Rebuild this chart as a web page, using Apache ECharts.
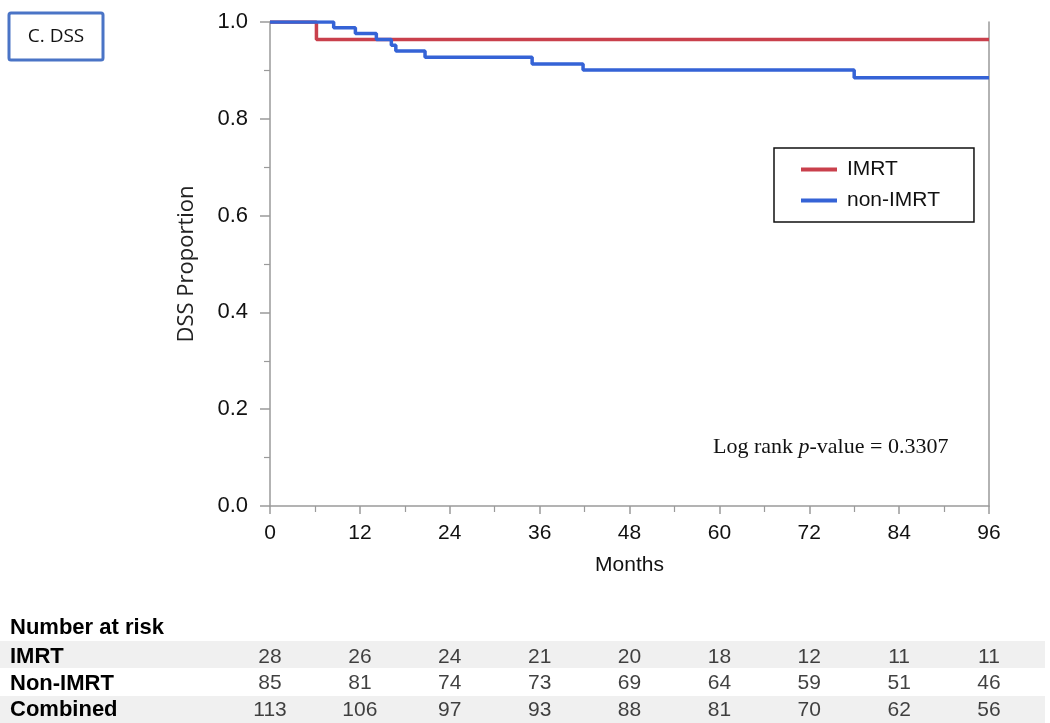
<!DOCTYPE html>
<html>
<head>
<meta charset="utf-8">
<script src="https://cdn.jsdelivr.net/npm/echarts@6/dist/echarts.min.js"></script>
<style>html,body{margin:0;padding:0;background:#fff;}#c{width:1050px;height:723px;}</style>
</head>
<body>
<div id="c"></div>
<script>
// ---- data ----
const seriesNames = ['IMRT', 'non-IMRT'];
const imrtTimes = [0, 6.2, 96];
const imrtSurv = [1.0, 0.964, 0.964];
const nonImrtTimes = [0, 8.5, 11.4, 14.2, 16.2, 16.8, 20.7, 35.0, 41.8, 78.0, 96];
const nonImrtSurv = [1.0, 0.988, 0.976, 0.964, 0.952, 0.940, 0.927, 0.913, 0.901, 0.885, 0.885];
const riskMonths = [0, 12, 24, 36, 48, 60, 72, 84, 96];
const riskRows = ['IMRT', 'Non-IMRT', 'Combined'];
const riskIMRT = [28, 26, 24, 21, 20, 18, 12, 11, 11];
const riskNonIMRT = [85, 81, 74, 73, 69, 64, 59, 51, 46];
const riskCombined = [113, 106, 97, 93, 88, 81, 70, 62, 56];
const pValueText = '0.3307';

// ---- build ----
const zip = (a, b) => a.map((v, i) => [v, b[i]]);
const riskTable = [riskIMRT, riskNonIMRT, riskCombined];
const riskPoints = [];
riskTable.forEach((row, r) => row.forEach((v, i) => riskPoints.push([riskMonths[i], riskRows[r], v])));

const axisGrey = '#9a9a9a';
const sans = '"Liberation Sans", Arial, sans-serif';
const serif = '"Liberation Serif", "Times New Roman", serif';

const chart = echarts.init(document.getElementById('c'), null, {renderer: 'canvas'});
chart.setOption({
  animation: false,
  backgroundColor: '#ffffff',
  grid: [
    {left: 270, right: 61, top: 22, bottom: 217},
    {left: 270, right: 61, top: 644, height: 80}
  ],
  xAxis: [
    {
      gridIndex: 0, type: 'value', min: 0, max: 96, interval: 12,
      name: 'Months', nameLocation: 'middle', nameGap: 49,
      nameTextStyle: {fontFamily: sans, fontSize: 21, color: '#111'},
      axisLine: {show: true, lineStyle: {color: axisGrey, width: 1.5}},
      axisTick: {show: true, length: 8, lineStyle: {color: axisGrey, width: 1.5}},
      minorTick: {show: true, splitNumber: 2, length: 6, lineStyle: {color: axisGrey, width: 1.2}},
      axisLabel: {fontFamily: sans, fontSize: 21, color: '#111', margin: 17},
      splitLine: {show: false}
    },
    {
      gridIndex: 1, type: 'value', min: 0, max: 96, interval: 12, show: false
    }
  ],
  yAxis: [
    {
      gridIndex: 0, type: 'value', min: 0, max: 1, interval: 0.2,
      name: 'DSS Proportion', nameLocation: 'middle', nameGap: 72,
      nameTextStyle: {fontFamily: '"Open Sans", sans-serif', fontSize: 22, color: '#222'},
      axisLine: {show: true, lineStyle: {color: axisGrey, width: 1.5}},
      axisTick: {show: true, length: 10, lineStyle: {color: axisGrey, width: 1.5}},
      minorTick: {show: true, splitNumber: 2, length: 6, lineStyle: {color: axisGrey, width: 1.2}},
      axisLabel: {fontFamily: sans, fontSize: 22, color: '#111', margin: 22, formatter: v => v.toFixed(1)},
      splitLine: {show: false}
    },
    {
      gridIndex: 0, type: 'value', min: 0, max: 1, position: 'right',
      axisLine: {show: true, lineStyle: {color: axisGrey, width: 1.5}},
      axisTick: {show: false}, axisLabel: {show: false}, splitLine: {show: false}
    },
    {
      gridIndex: 1, type: 'category', data: riskRows, inverse: true,
      axisLine: {show: false}, axisTick: {show: false}, splitLine: {show: false},
      axisLabel: {show: true, interval: 0, hideOverlap: false, align: 'left', margin: 260, fontFamily: sans, fontWeight: 'bold', fontSize: 22, color: '#000'}
    }
  ],
  legend: {
    orient: 'vertical', left: 774, top: 148, width: 199,
    data: seriesNames,
    icon: 'rect', itemWidth: 36, itemHeight: 4, itemGap: 10,
    padding: [11, 34, 11, 27],
    borderColor: '#111', borderWidth: 1.5,
    textStyle: {fontFamily: sans, fontSize: 21, color: '#111', padding: [0, 0, 0, 5]}
  },
  graphic: [
    {type: 'rect', z: -10, shape: {x: 0, y: 641, width: 1045, height: 27}, style: {fill: '#f0f0f0'}},
    {type: 'rect', z: -10, shape: {x: 0, y: 696, width: 1045, height: 27}, style: {fill: '#f0f0f0'}},
    {type: 'text', left: 10, top: 617, style: {text: 'Number at risk', fontFamily: sans, fontWeight: 'bold', fontSize: 22, fill: '#000'}},
    {type: 'rect', shape: {x: 9, y: 13, width: 94, height: 47, r: 2}, style: {fill: '#fff', stroke: '#4a74c6', lineWidth: 3}},
    {type: 'text', x: 56, y: 37, style: {text: 'C. DSS', align: 'center', verticalAlign: 'middle', fontFamily: '"Open Sans", sans-serif', fontSize: 19, fill: '#111'}},
    {type: 'text', left: 713, top: 436, style: {
      text: '{a|Log rank }{b|p}{a|-value = ' + pValueText + '}',
      rich: {
        a: {fontFamily: serif, fontSize: 22, fill: '#111'},
        b: {fontFamily: serif, fontSize: 22, fontStyle: 'italic', fill: '#111'}
      }
    }}
  ],
  series: [
    {
      name: seriesNames[0], type: 'line', step: 'end', xAxisIndex: 0, yAxisIndex: 0,
      data: zip(imrtTimes, imrtSurv), showSymbol: false, symbol: 'none',
      lineStyle: {color: '#c9404c', width: 3.5}, itemStyle: {color: '#c9404c'}, z: 3
    },
    {
      name: seriesNames[1], type: 'line', step: 'end', xAxisIndex: 0, yAxisIndex: 0,
      data: zip(nonImrtTimes, nonImrtSurv), showSymbol: false, symbol: 'none',
      lineStyle: {color: '#3563d6', width: 3.5}, itemStyle: {color: '#3563d6'}, z: 4
    },
    {
      name: 'risk', type: 'scatter', xAxisIndex: 1, yAxisIndex: 2,
      data: riskPoints, symbolSize: 0, silent: true,
      label: {show: true, position: 'inside', formatter: p => String(p.value[2]), fontFamily: sans, fontSize: 21, color: '#111'}
    }
  ]
});
</script>
</body>
</html>
